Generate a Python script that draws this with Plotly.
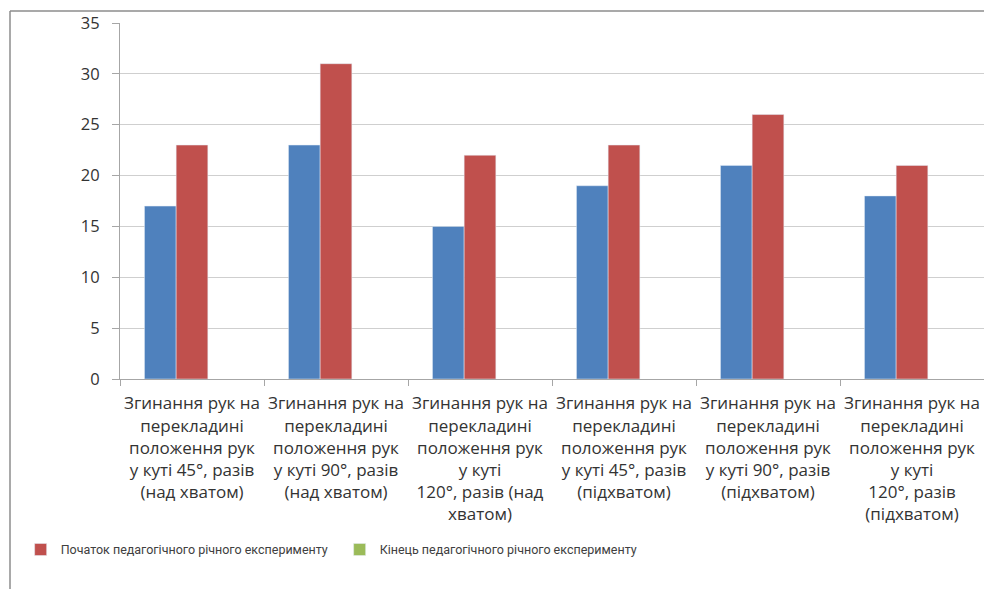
import plotly.graph_objects as go

categories = [
    "Згинання рук на<br>перекладині<br>положення рук<br>у куті 45°, разів<br>(над хватом)",
    "Згинання рук на<br>перекладині<br>положення рук<br>у куті 90°, разів<br>(над хватом)",
    "Згинання рук на<br>перекладині<br>положення рук<br>у куті<br>120°, разів (над<br>хватом)",
    "Згинання рук на<br>перекладині<br>положення рук<br>у куті 45°, разів<br>(підхватом)",
    "Згинання рук на<br>перекладині<br>положення рук<br>у куті 90°, разів<br>(підхватом)",
    "Згинання рук на<br>перекладині<br>положення рук<br>у куті<br>120°, разів<br>(підхватом)",
]
series_blue = [17, 23, 15, 19, 21, 18]
series_start = [23, 31, 22, 23, 26, 21]
series_end = [None, None, None, None, None, None]

name_start = "Початок педагогічного річного експерименту"
name_end = "Кінець педагогічного річного експерименту"

y_ticks = [0, 5, 10, 15, 20, 25, 30, 35]

font_family = "Open Sans, Noto Sans, sans-serif"
legend_family = "Roboto, Liberation Sans, sans-serif"

W, H = 984, 581
L, R, T, B = 112, 8, 15, 210
PW, PH = W - L - R, H - T - B

fig = go.Figure()
fig.add_trace(go.Bar(x=categories, y=series_blue, marker_color="#4F81BD",
                     showlegend=False, name=""))
fig.add_trace(go.Bar(x=categories, y=series_start, marker_color="#C0504D",
                     name=name_start))
fig.add_trace(go.Bar(x=categories, y=series_end, marker_color="#9BBB59",
                     name=name_end))

top_y = (H - B - 3) / PH
left_x = (2 - L) / PW

fig.update_layout(
    width=W, height=H,
    margin=dict(l=L, r=R, t=T, b=B, autoexpand=False),
    paper_bgcolor="white", plot_bgcolor="white",
    barmode="group", bargap=0.34, bargroupgap=0,
    font=dict(family=font_family, size=14, color="#404040"),
    legend=dict(orientation="h", x=-0.115, y=-0.48, xanchor="left", yanchor="middle",
                font=dict(family=legend_family, size=12.5, color="#404040"),
                entrywidth=274, entrywidthmode="pixels",
                traceorder="normal"),
    shapes=[
        dict(type="line", xref="paper", yref="paper",
             x0=left_x, x1=1.05, y0=top_y, y1=top_y,
             line=dict(color="#8c8c8c", width=1.5)),
        dict(type="line", xref="paper", yref="paper",
             x0=left_x, x1=left_x, y0=top_y, y1=-B / PH - 0.05,
             line=dict(color="#8c8c8c", width=1.5)),
    ],
)
fig.update_xaxes(
    showline=True, linecolor="#a6a6a6", linewidth=1,
    ticks="outside", tickson="boundaries", ticklen=6, tickcolor="#a6a6a6",
    tickfont=dict(size=17, color="#333333"), tickangle=0,
    showgrid=False, ticklabelstandoff=9,
)
fig.update_yaxes(
    range=[0, 35], tickvals=y_ticks,
    showline=True, linecolor="#a6a6a6", linewidth=1,
    ticks="outside", ticklen=7, tickcolor="#a6a6a6",
    showgrid=True, gridcolor="#cfcfcf", gridwidth=1.2,
    zeroline=False, tickfont=dict(size=16.5, color="#333333"),
    ticklabelstandoff=9,
)

fig.write_html("out.html")
